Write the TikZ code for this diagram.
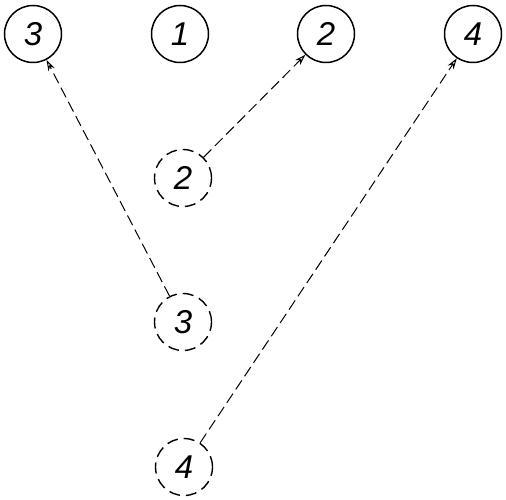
\documentclass[tikz,border=0pt]{standalone}
\usepackage{fontspec}
\setsansfont{Liberation Sans}
\usetikzlibrary{arrows.meta}

\begin{document}
\begin{tikzpicture}[
    x=1pt, y=-1pt,
    posn/.style={
      circle, draw, line width=1.5pt, minimum size=57pt, inner sep=0pt,
      font=\fontsize{33}{33}\selectfont\sffamily\itshape
    },
    newposn/.style={posn, line width=1.4pt, dash pattern=on 11pt off 6pt},
    move/.style={-{Stealth[open, length=11pt, width=7pt]}, line width=1pt,
                 dash pattern=on 11pt off 5pt},
  ]
  \useasboundingbox (0,0) rectangle (506,500);

  % Old positions (top row)
  \node[posn] (p3) at (33,34) {3};
  \node[posn] (p1) at (180,34) {1};
  \node[posn] (p2) at (326,34) {2};
  \node[posn] (p4) at (473,34) {4};

  % New positions (dashed)
  \node[newposn] (q2) at (183,178) {2};
  \node[newposn] (q3) at (183,322) {3};
  \node[newposn] (q4) at (184,467) {4};

  % Moves
  \foreach \a/\b in {q2/p2, q3/p3, q4/p4}
    \draw[move] (\a) -- (\b);

\end{tikzpicture}
\end{document}
